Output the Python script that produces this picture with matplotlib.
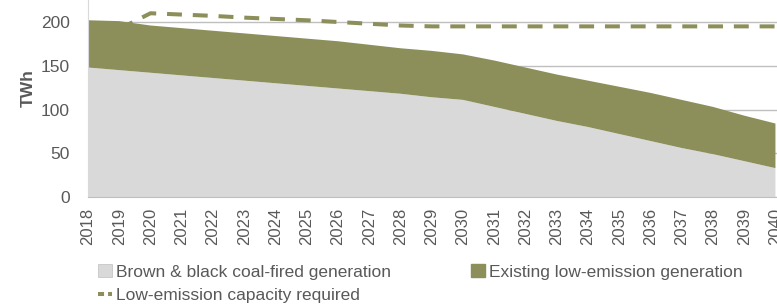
import matplotlib
matplotlib.use("Agg")
import matplotlib.pyplot as plt
from matplotlib.lines import Line2D
from matplotlib.patches import Patch

years = list(range(2018, 2041))
coal = [148, 145, 142, 139, 136, 133, 130, 127, 124, 121, 118, 114, 111,
        103, 95, 87, 80, 72, 64, 56, 49, 41, 33]
total_top = [202, 201, 196, 193, 190, 187, 184, 181, 178, 174, 170, 167, 163,
             156, 148, 140, 133, 126, 119, 111, 103, 93, 84]
existing_low = [t - c for t, c in zip(total_top, coal)]
req_years = list(range(2019, 2041))
required = [192, 210, 208.5, 207, 205, 203.5, 202, 200, 198, 196, 195,
            195, 195, 195, 195, 195, 195, 195, 195, 195, 195, 195]

labels = ["Brown & black coal-fired generation",
          "Existing low-emission generation",
          "Low-emission capacity required"]

GRAY = "#d9d9d9"
GREEN = "#8c8f5a"
TXT = "#595959"

plt.rcParams['font.family'] = ['Liberation Sans', 'DejaVu Sans']

fig = plt.figure(figsize=(7.77, 3.04), dpi=100)
ax = fig.add_axes([88/777, 1 - 197/304, 1 - 88/777, (197 + 21.75)/304])

ax.stackplot(years, coal, existing_low, colors=[GRAY, GREEN], zorder=2,
             linewidth=0)
ax.plot(req_years, required, color=GREEN, linestyle=(0, (3.7, 2.7)),
        linewidth=2.9, zorder=1.5, clip_on=False)

ax.set_xlim(2018, 2040.05)
ax.set_ylim(0, 250)
ax.set_yticks([0, 50, 100, 150, 200])
ax.set_xticks(years)
ax.set_xticklabels([str(y) for y in years], rotation=90)
ax.tick_params(axis='x', length=0, pad=8, labelsize=12, labelcolor=TXT)
ax.tick_params(axis='y', length=0, pad=13, labelsize=12.5, labelcolor=TXT)
ax.grid(axis='y', color="#bfbfbf", linewidth=1.0, zorder=0.5)
ax.set_axisbelow(True)
for s in ['top', 'right']:
    ax.spines[s].set_visible(False)
ax.spines['left'].set_color("#d9d9d9")
ax.spines['bottom'].set_color("#bfbfbf")
ax.set_ylabel("TWh", fontsize=12.5, fontweight='bold', color=TXT, labelpad=4)

handles = [Patch(facecolor=GRAY, edgecolor="#bfbfbf", linewidth=0.5),
           Line2D([0], [0], color=GREEN, linestyle=(0, (1.5, 1)), linewidth=2.9),
           Patch(facecolor=GREEN, edgecolor=GREEN)]
hl = [labels[0], labels[2], labels[1]]
fig.legend(handles, hl, ncol=2, loc='upper left',
           bbox_to_anchor=(98/777, 1 - 264/304), frameon=False,
           fontsize=12.5, labelcolor=TXT, handlelength=0.8, handleheight=0.8,
           handletextpad=0.25, columnspacing=4.6, labelspacing=0.45,
           borderaxespad=0, borderpad=0)

fig.savefig("out.png", dpi=100)
